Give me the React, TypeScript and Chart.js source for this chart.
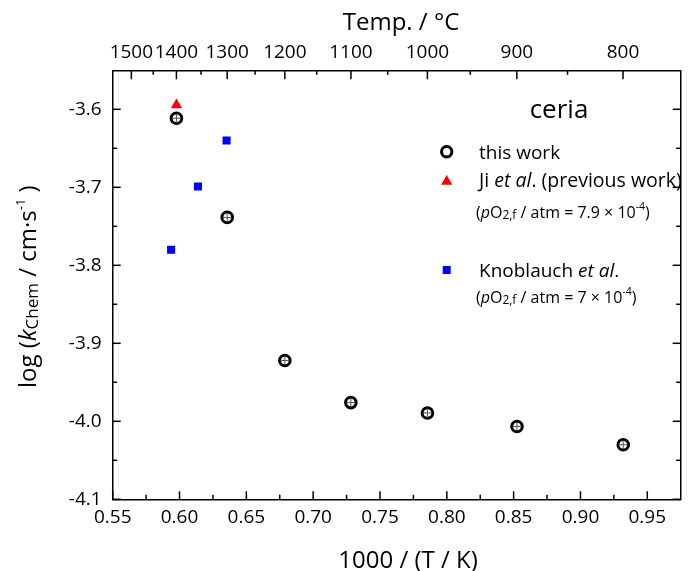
import React, { useEffect, useRef } from 'react';
import { Chart, registerables } from 'chart.js';

Chart.register(...registerables);

const FONT = '"Open Sans", "DejaVu Sans", sans-serif';

// ---- data ----
const thisWorkX = [0.5977, 0.6357, 0.6788, 0.7282, 0.7855, 0.8525, 0.932];
const thisWorkY = [-3.6115, -3.7386, -3.922, -3.976, -3.9893, -4.0067, -4.03];
const jiX = [0.5977];
const jiY = [-3.5945];
const knoblauchX = [0.5937, 0.6138, 0.6352];
const knoblauchY = [-3.78, -3.699, -3.64];

// ---- ticks ----
const xMajorTicks = [0.55, 0.6, 0.65, 0.7, 0.75, 0.8, 0.85, 0.9, 0.95];
const xMinorTicks = [0.575, 0.625, 0.675, 0.725, 0.775, 0.825, 0.875, 0.925];
const yMajorTicks = [-4.1, -4.0, -3.9, -3.8, -3.7, -3.6];
const yMinorTicks = [-4.05, -3.95, -3.85, -3.75, -3.65];
const topTempLabels = [1500, 1400, 1300, 1200, 1100, 1000, 900, 800];
const topMinorTemps = [1450, 1350, 1250, 1150, 1050, 950, 850];

const X_MIN = 0.55;
const X_MAX = 0.975;
const Y_MIN = -4.1;
const Y_MAX = -3.55;

const tempToX = (t: number) => 1000 / (t + 273.15);

type Seg = { t: string; size: number; italic?: boolean; dy?: number };

function segFont(s: Seg) {
  return `${s.italic ? 'italic ' : ''}${s.size}px ${FONT}`;
}

function drawRich(
  ctx: CanvasRenderingContext2D,
  segs: Seg[],
  x: number,
  y: number,
  align: 'left' | 'center',
  rot = 0
) {
  ctx.save();
  ctx.translate(x, y);
  ctx.rotate(rot);
  ctx.textBaseline = 'alphabetic';
  ctx.textAlign = 'left';
  ctx.fillStyle = '#000';
  const widths = segs.map((s) => {
    ctx.font = segFont(s);
    return ctx.measureText(s.t).width;
  });
  const total = widths.reduce((a, b) => a + b, 0);
  let cx = align === 'center' ? -total / 2 : 0;
  segs.forEach((s, i) => {
    ctx.font = segFont(s);
    ctx.fillText(s.t, cx, s.dy || 0);
    cx += widths[i];
  });
  ctx.restore();
}

const decorPlugin = {
  id: 'decor',
  afterDatasetsDraw(chart: any) {
    const ctx: CanvasRenderingContext2D = chart.ctx;
    const xs = chart.scales.x;
    const ys = chart.scales.y;
    const area = chart.chartArea;
    ctx.save();
    ctx.strokeStyle = '#000';
    ctx.lineWidth = 1.5;
    const MAJ = 8;
    const MIN = 4.5;
    const line = (x1: number, y1: number, x2: number, y2: number) => {
      ctx.beginPath();
      ctx.moveTo(x1, y1);
      ctx.lineTo(x2, y2);
      ctx.stroke();
    };
    // bottom
    xMajorTicks.forEach((v) => {
      const p = xs.getPixelForValue(v);
      line(p, area.bottom, p, area.bottom - MAJ);
    });
    xMinorTicks.forEach((v) => {
      const p = xs.getPixelForValue(v);
      line(p, area.bottom, p, area.bottom - MIN);
    });
    // top (temperature)
    topTempLabels.forEach((t) => {
      const p = xs.getPixelForValue(tempToX(t));
      line(p, area.top, p, area.top + MAJ + 1);
    });
    topMinorTemps.forEach((t) => {
      const p = xs.getPixelForValue(tempToX(t));
      line(p, area.top, p, area.top + MIN);
    });
    // left & right
    yMajorTicks.forEach((v) => {
      const p = ys.getPixelForValue(v);
      line(area.left, p, area.left + MAJ, p);
      line(area.right, p, area.right - MAJ, p);
    });
    yMinorTicks.forEach((v) => {
      const p = ys.getPixelForValue(v);
      line(area.left, p, area.left + MIN, p);
      line(area.right, p, area.right - MIN, p);
    });
    ctx.restore();
  },
  afterDraw(chart: any) {
    const ctx: CanvasRenderingContext2D = chart.ctx;
    // axis titles
    drawRich(ctx, [{ t: 'Temp. / °C', size: 24 }], 401, 30, 'center');
    drawRich(ctx, [{ t: '1000 / (T / K)', size: 24 }], 408, 567.7, 'center');
    drawRich(
      ctx,
      [
        { t: 'log (', size: 24 },
        { t: 'k', size: 24, italic: true },
        { t: 'Chem', size: 17, dy: 2 },
        { t: ' / cm·s', size: 24 },
        { t: '-1', size: 13, dy: -11 },
        { t: ' )', size: 24 },
      ],
      36,
      286.7,
      'center',
      -Math.PI / 2
    );

    // legend / annotation
    drawRich(ctx, [{ t: 'ceria', size: 26 }], 559, 117.7, 'center');

    ctx.save();
    // circle marker
    ctx.strokeStyle = '#000';
    ctx.lineWidth = 3;
    ctx.beginPath();
    ctx.arc(446.7, 151.7, 5.2, 0, Math.PI * 2);
    ctx.stroke();
    // triangle marker
    const tx = 446.7;
    const ty = 181.5;
    const r = 6.5;
    ctx.fillStyle = '#ff0000';
    ctx.beginPath();
    ctx.moveTo(tx, ty - r);
    ctx.lineTo(tx + 0.866 * r, ty + 0.5 * r);
    ctx.lineTo(tx - 0.866 * r, ty + 0.5 * r);
    ctx.closePath();
    ctx.fill();
    // square marker
    ctx.fillStyle = '#0000ff';
    ctx.fillRect(446.7 - 4, 270 - 4, 8, 8);
    ctx.restore();

    drawRich(ctx, [{ t: 'this work', size: 19 }], 479, 158.7, 'left');
    drawRich(
      ctx,
      [
        { t: 'Ji ', size: 19.5 },
        { t: 'et al', size: 19.5, italic: true },
        { t: '. (previous work)', size: 19.5 },
      ],
      479,
      187.2,
      'left'
    );
    drawRich(
      ctx,
      [
        { t: '(', size: 16 },
        { t: 'p', size: 16, italic: true },
        { t: 'O', size: 16 },
        { t: '2,f', size: 12, dy: 1 },
        { t: ' / atm = 7.9 × 10', size: 16 },
        { t: '-4', size: 10.5, dy: -7.5 },
        { t: ')', size: 16 },
      ],
      476,
      217.5,
      'left'
    );
    drawRich(
      ctx,
      [
        { t: 'Knoblauch ', size: 19 },
        { t: 'et al', size: 19, italic: true },
        { t: '.', size: 19 },
      ],
      479,
      276.7,
      'left'
    );
    drawRich(
      ctx,
      [
        { t: '(', size: 16 },
        { t: 'p', size: 16, italic: true },
        { t: 'O', size: 16 },
        { t: '2,f', size: 12, dy: 1 },
        { t: ' / atm = 7 × 10', size: 16 },
        { t: '-4', size: 10.5, dy: -7.5 },
        { t: ')', size: 16 },
      ],
      476,
      302.7,
      'left'
    );
  },
};

export default function App() {
  const ref = useRef<HTMLCanvasElement | null>(null);

  useEffect(() => {
    if (!ref.current) return;
    const toPts = (xs: number[], ys: number[]) => xs.map((x, i) => ({ x, y: ys[i] }));
    const tickFont = { family: FONT, size: 19 };
    const chart = new Chart(ref.current, {
      type: 'scatter',
      data: {
        datasets: [
          {
            label: 'this work (error)',
            data: toPts(thisWorkX, thisWorkY),
            pointStyle: 'cross',
            pointRadius: 4.6,
            borderColor: '#555',
            borderWidth: 1,
            backgroundColor: '#555',
          },
          {
            label: 'this work',
            data: toPts(thisWorkX, thisWorkY),
            pointStyle: 'circle',
            pointRadius: 5.3,
            borderColor: '#000',
            borderWidth: 3,
            backgroundColor: '#fff',
          },
          {
            label: 'Ji et al. (previous work)',
            data: toPts(jiX, jiY),
            pointStyle: 'triangle',
            pointRadius: 6.5,
            borderWidth: 0,
            borderColor: '#ff0000',
            backgroundColor: '#ff0000',
          },
          {
            label: 'Knoblauch et al.',
            data: toPts(knoblauchX, knoblauchY),
            pointStyle: 'rect',
            pointRadius: 5.7,
            borderWidth: 0,
            borderColor: '#0000ff',
            backgroundColor: '#0000ff',
          },
        ],
      },
      options: {
        animation: false,
        responsive: false,
        maintainAspectRatio: false,
        layout: { padding: 0 },
        plugins: {
          legend: { display: false },
          tooltip: { enabled: false },
        },
        scales: {
          x: {
            type: 'linear',
            position: 'bottom',
            min: X_MIN,
            max: X_MAX,
            bounds: 'data',
            afterBuildTicks: (s: any) => {
              s.ticks = xMajorTicks.map((v) => ({ value: v }));
            },
            ticks: {
              font: tickFont,
              color: '#000',
              padding: 6.5,
              maxRotation: 0,
              autoSkip: false,
              callback: (v: any) => Number(v).toFixed(2),
            },
            grid: { display: false, drawTicks: false },
            border: { display: true, color: '#000', width: 1.5 },
            afterFit: (s: any) => {
              s.height = 571 - 499.3;
            },
          },
          x2: {
            type: 'linear',
            position: 'top',
            min: X_MIN,
            max: X_MAX,
            bounds: 'data',
            afterBuildTicks: (s: any) => {
              s.ticks = topTempLabels.map((t) => ({ value: tempToX(t) }));
            },
            ticks: {
              font: tickFont,
              color: '#000',
              padding: 6,
              maxRotation: 0,
              autoSkip: false,
              callback: (_v: any, i: number) => String(topTempLabels[i]),
            },
            grid: { display: false, drawTicks: false },
            border: { display: true, color: '#000', width: 1.5 },
            afterFit: (s: any) => {
              s.height = 70.3;
            },
          },
          y: {
            type: 'linear',
            position: 'left',
            min: Y_MIN,
            max: Y_MAX,
            bounds: 'data',
            afterBuildTicks: (s: any) => {
              s.ticks = yMajorTicks.map((v) => ({ value: v }));
            },
            ticks: {
              font: tickFont,
              color: '#000',
              padding: 11,
              autoSkip: false,
              callback: (v: any) => Number(v).toFixed(1),
            },
            grid: { display: false, drawTicks: false },
            border: { display: true, color: '#000', width: 1.5 },
            afterFit: (s: any) => {
              s.width = 112.7;
            },
          },
          y2: {
            type: 'linear',
            position: 'right',
            min: Y_MIN,
            max: Y_MAX,
            ticks: { display: false },
            grid: { display: false, drawTicks: false },
            border: { display: true, color: '#000', width: 1.5 },
            afterFit: (s: any) => {
              s.width = 1;
            },
          },
        },
      },
      plugins: [decorPlugin],
    } as any);
    return () => chart.destroy();
  }, []);

  return (
    <div style={{ position: 'absolute', left: 0, top: 0, width: 689, height: 571 }}>
      <canvas ref={ref} width={689} height={571} style={{ display: 'block', width: 689, height: 571 }} />
    </div>
  );
}
